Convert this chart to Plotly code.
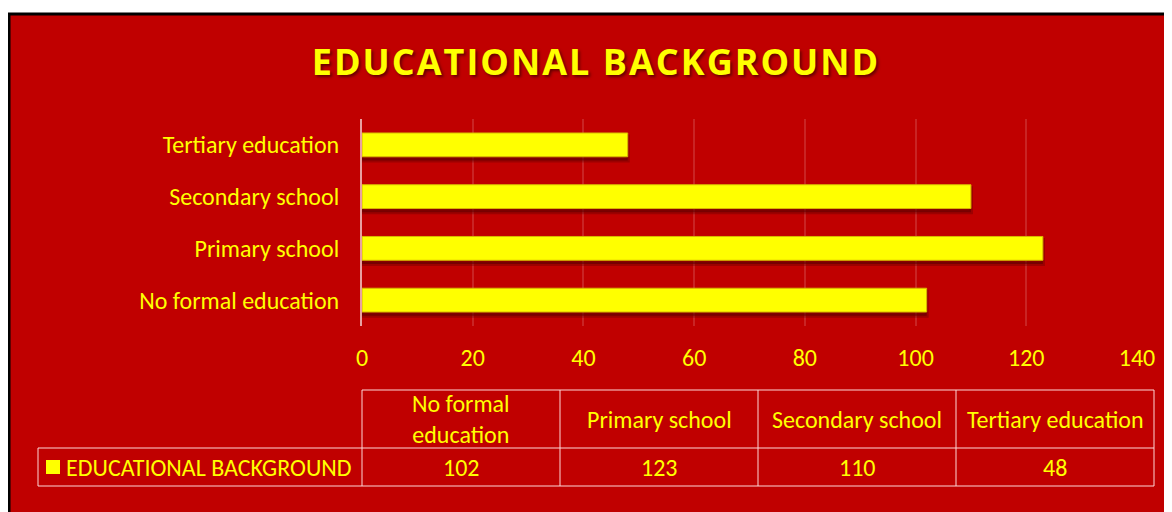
import plotly.graph_objects as go

categories = ["No formal education", "Primary school", "Secondary school", "Tertiary education"]
values = [102, 123, 110, 48]
header_labels = ["No formal<br>education", "Primary school", "Secondary school", "Tertiary education"]
series_name = "EDUCATIONAL BACKGROUND"
title_text = "EDUCATIONAL BACKGROUND"
x_ticks = [0, 20, 40, 60, 80, 100, 120, 140]

# page offset (browser body margin)
OFF = 8
W, H = 1172 - OFF, 512 - OFF
ML, MR, MT, MB = 362 - OFF, 35, 119 - OFF, 186
PW, PH = W - ML - MR, H - MT - MB

def px(x):
    return (x - OFF - ML) / PW

def py(y):
    return (H - MB - (y - OFF)) / PH

RED = "#C00000"
YEL = "#FFFF00"
FONT = "Carlito, Lato, sans-serif"
GRID = "rgba(255,255,255,0.14)"
TBL = "rgba(255,220,220,0.65)"
FS = 24

fig = go.Figure()
fig.add_trace(go.Bar(
    y=categories, x=values, orientation="h", width=0.46, offset=-0.23 - 0.07,
    marker=dict(color="rgba(90,0,0,0.55)", line=dict(color="rgba(90,0,0,0.35)", width=4)),
    hoverinfo="skip", showlegend=False))
fig.add_trace(go.Bar(
    y=categories, x=values, orientation="h", width=0.46,
    marker=dict(color=YEL, line=dict(color="#D8B800", width=1)),
    name=series_name, showlegend=False))

shapes = []
shapes.append(dict(type="rect", xref="paper", yref="paper", layer="below",
                   x0=px(9), x1=px(1190), y0=py(14), y1=py(530),
                   fillcolor=RED, line=dict(color="black", width=3)))
col_x = [362, 560, 758, 956, 1154]
def hline(y, x0, x1):
    shapes.append(dict(type="line", xref="paper", yref="paper", x0=px(x0), x1=px(x1),
                       y0=py(y), y1=py(y), line=dict(color=TBL, width=1.5)))
def vline(x, y0, y1):
    shapes.append(dict(type="line", xref="paper", yref="paper", x0=px(x), x1=px(x),
                       y0=py(y0), y1=py(y1), line=dict(color=TBL, width=1.5)))
hline(390, 362, 1154)
hline(448, 38, 1154)
hline(486, 38, 1154)
vline(38, 448, 486)
for cx in col_x:
    vline(cx, 390, 486)
shapes.append(dict(type="rect", xref="paper", yref="paper", x0=px(46), x1=px(60),
                   y0=py(460), y1=py(474), fillcolor=YEL, line=dict(width=0)))

annotations = []
for i, (lab, v) in enumerate(zip(header_labels, values)):
    cx = (col_x[i] + col_x[i + 1]) / 2
    annotations.append(dict(xref="paper", yref="paper", x=px(cx), y=py(419), text=lab,
                            showarrow=False, xanchor="center", yanchor="middle",
                            font=dict(family=FONT, size=FS, color=YEL)))
    annotations.append(dict(xref="paper", yref="paper", x=px(cx), y=py(467), text=str(v),
                            showarrow=False, xanchor="center", yanchor="middle",
                            font=dict(family=FONT, size=FS, color=YEL)))
annotations.append(dict(xref="paper", yref="paper", x=px(64), y=py(467), text=series_name,
                        showarrow=False, xanchor="left", yanchor="middle",
                        font=dict(family=FONT, size=FS, color=YEL)))

fig.update_layout(
    width=W, height=H,
    margin=dict(l=ML, r=MR, t=MT, b=MB, pad=0),
    paper_bgcolor="white", plot_bgcolor="rgba(0,0,0,0)",
    barmode="overlay",
    title=dict(text='<b><span style="letter-spacing:2px">' + title_text + '</span></b>',
               xref="container", yref="container",
               x=(596 - OFF) / W, y=1 - (62 - OFF) / H, xanchor="center", yanchor="middle",
               font=dict(family="Open Sans, sans-serif", size=36, color=YEL,
                         shadow="2px 2px 3px rgba(60,0,0,0.7)")),
    xaxis=dict(range=[0, 140], tickvals=x_ticks, showgrid=True, gridcolor=GRID, gridwidth=1.5,
               zeroline=False, showline=False, ticks="", ticklabelstandoff=15,
               tickfont=dict(family=FONT, size=FS, color=YEL)),
    yaxis=dict(categoryorder="array", categoryarray=categories, showgrid=False,
               showline=True, linecolor="#E8A0A0", linewidth=2, ticks="", ticklabelstandoff=16,
               tickfont=dict(family=FONT, size=FS, color=YEL), range=[-0.5, 3.5]),
    shapes=shapes, annotations=annotations,
)
fig.write_html("out.html")
